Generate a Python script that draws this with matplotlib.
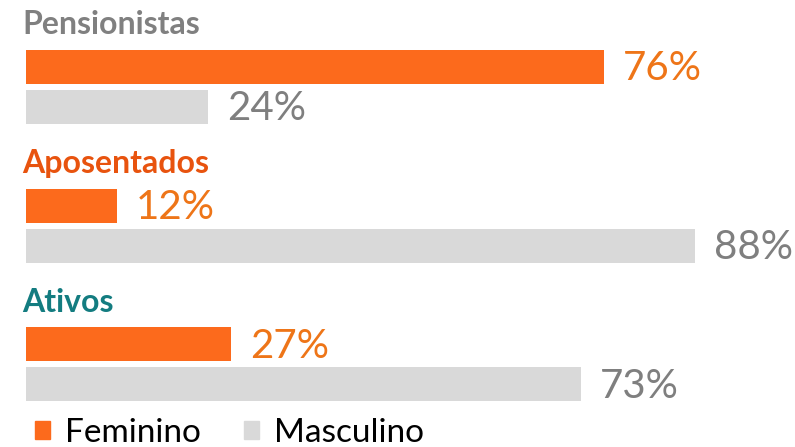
import matplotlib.pyplot as plt
from matplotlib.patches import Patch

# Data
groups = ["Pensionistas", "Aposentados", "Ativos"]
feminino = [76, 12, 27]
masculino = [24, 88, 73]
group_colors = ["#808080", "#E8530E", "#137C80"]

orange = "#FC6A1C"
grey = "#D9D9D9"

plt.rcParams['font.family'] = ['Lato', 'DejaVu Sans']

fig = plt.figure(figsize=(7.95, 4.47), dpi=100)
# axis measured in pixels vertically, percent horizontally
ax = fig.add_axes([26 / 795, 0, 760 / 795, 1])
ax.set_xlim(0, 100)
ax.set_ylim(447, 0)
ax.axis("off")

step = 138.5
bar_h = 34
for i, g in enumerate(groups):
    top = 50 + i * step
    y_f = top + bar_h / 2
    y_m = top + 40 + bar_h / 2
    ax.barh(y_f, feminino[i], height=bar_h, color=orange)
    ax.barh(y_m, masculino[i], height=bar_h, color=grey)
    ax.text(feminino[i] + 2.5, y_f + 2, f"{feminino[i]}%", color="#EE7518",
            fontsize=29, va="center", ha="left")
    ax.text(masculino[i] + 2.5, y_m + 2, f"{masculino[i]}%", color="#7F7F7F",
            fontsize=29, va="center", ha="left")
    ax.text(-0.5, top - 25, g, color=group_colors[i], fontsize=23,
            fontweight="bold", va="center", ha="left")

handles = [Patch(color=orange, label="Feminino"), Patch(color=grey, label="Masculino")]
ax.legend(handles=handles, loc="center left", bbox_to_anchor=(0.012, 0.032), ncol=2,
          frameon=False, fontsize=24, handlelength=0.45, handleheight=0.45,
          handletextpad=0.45, columnspacing=1.3, borderaxespad=0, borderpad=0)

fig.savefig("out.png", dpi=100)
plt.close()
